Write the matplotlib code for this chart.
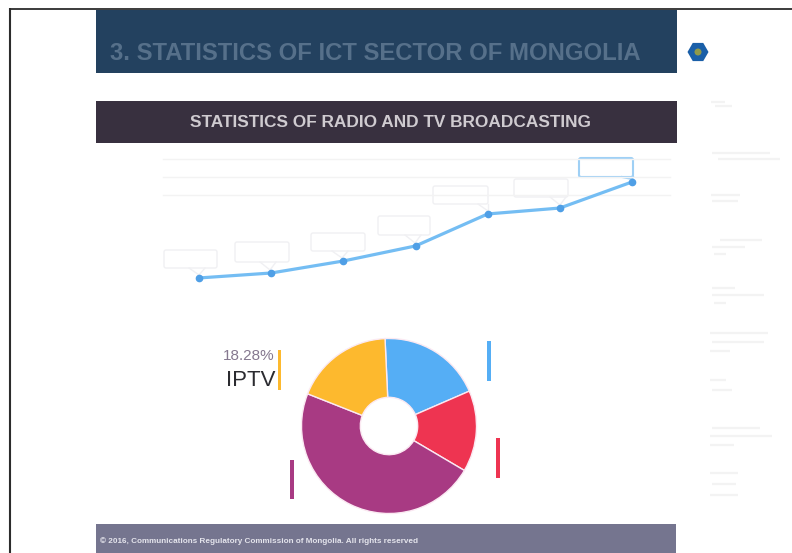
import matplotlib
matplotlib.use("Agg")
import math
import matplotlib.pyplot as plt
from matplotlib.patches import Rectangle, FancyBboxPatch, RegularPolygon, Circle

# ---- data ----
point_index = [0, 1, 2, 3, 4, 5, 6]
line_values = [16.9, 20.0, 27.5, 36.9, 56.9, 60.6, 76.9]   # y scale unreadable: relative units
grid_values = [91.0, 80.0, 68.5]

share_labels = ["", "", "", "IPTV"]
share_values = [19.2, 15.0, 47.5, 18.28]
share_colors = ["#55aef5", "#ee3451", "#a83a83", "#fdb92e"]

title_text = "3. STATISTICS OF ICT SECTOR OF MONGOLIA"
subtitle_text = "STATISTICS OF RADIO AND TV BROADCASTING"
footer_text = "\u00a9 2016, Communications Regulatory Commission of Mongolia. All rights reserved"
iptv_share = "18.28%"
iptv_name = "IPTV"

W, H = 792, 553
plt.rcParams["font.family"] = ["Liberation Sans", "DejaVu Sans"]
fig = plt.figure(figsize=(W / 100, H / 100), dpi=100, facecolor="white")

def px_axes(x0, y0, x1, y1, **kw):
    return fig.add_axes([x0 / W, 1 - y1 / H, (x1 - x0) / W, (y1 - y0) / H], **kw)

# page layer, in pixel coordinates
page = px_axes(0, 0, W, H)
page.set_xlim(0, W); page.set_ylim(H, 0); page.axis("off")

# scan edge
page.plot([9, W], [8.5, 8.5], color="#2c2c2c", lw=1.3, solid_capstyle="butt")
page.plot([9.5, 9.5], [8, H], color="#2c2c2c", lw=1.5, solid_capstyle="butt")

# banners
page.add_patch(Rectangle((96, 10), 581, 63, fc="#23415f", ec="none"))
page.add_patch(Rectangle((96, 101), 581, 42, fc="#38303f", ec="none"))
page.add_patch(Rectangle((96, 524), 580, 29, fc="#75758f", ec="none"))
page.text(375, 53, title_text, color="#56708a", fontsize=17.2, fontweight="bold",
          ha="center", va="center")
page.text(390, 122.5, subtitle_text, color="#cfcbd0", fontsize=12.4, fontweight="bold",
          ha="center", va="center")
page.text(100, 541, footer_text, color="#e4e4ec", fontsize=5.9, fontweight="bold",
          ha="left", va="center")

# logo
page.add_patch(RegularPolygon((698, 52), 6, radius=10.5, orientation=math.pi / 6,
                              fc="#1a5fa8", ec="none"))
page.add_patch(Circle((698, 52), 3.5, fc="#8f9a4a", ec="none"))

# faint unreadable sidebar text, rendered as very light strokes
side_rows = [(711, 725, 102), (715, 732, 106), (712, 770, 153), (718, 780, 159),
             (711, 740, 195), (712, 738, 201), (720, 762, 240), (712, 745, 247),
             (714, 726, 254), (712, 735, 288), (712, 764, 295), (714, 726, 303),
             (710, 768, 333), (712, 764, 342), (710, 730, 351), (710, 726, 380),
             (712, 732, 390), (712, 760, 428), (710, 772, 436), (710, 734, 445),
             (710, 738, 473), (712, 736, 484), (710, 738, 495)]
for x0, x1, y in side_rows:
    page.plot([x0, x1], [y, y], color="#f3f3f3", lw=1.6, solid_capstyle="butt")

# callout boxes over the line
boxes = [(164, 250, 53, 18), (235, 242, 54, 20), (311, 233, 54, 18), (378, 216, 52, 19),
         (433, 186, 55, 18), (514, 179, 54, 18), (579, 158, 54, 19)]
tails = [(199, 278), (270, 273), (342, 261), (415, 246), (488, 214), (560, 208), (632, 182)]
for i, ((bx, by, bw, bh), (tx, ty)) in enumerate(zip(boxes, tails)):
    last = i == len(boxes) - 1
    col = "#9fd0f5" if last else "#f0f0f3"
    lw = 1.5 if last else 1.0
    page.add_patch(FancyBboxPatch((bx, by), bw, bh, boxstyle="round,pad=0,rounding_size=2",
                                  fc="white", ec=col, lw=lw))
    page.plot([tx - 10, tx], [by + bh, ty - 3], color=col, lw=lw)
    page.plot([tx, min(tx + 6, bx + bw)], [ty - 3, by + bh], color=col, lw=lw)

# colour key bars
page.add_patch(Rectangle((277.5, 350), 3.5, 40, fc=share_colors[3], ec="none"))
page.add_patch(Rectangle((486.5, 341), 4, 40, fc=share_colors[0], ec="none"))
page.add_patch(Rectangle((496, 438), 4, 40, fc=share_colors[1], ec="none"))
page.add_patch(Rectangle((290, 460), 4, 39, fc=share_colors[2], ec="none"))
page.text(274, 356, iptv_share, color="#85788f", fontsize=11, ha="right", va="center")
page.text(275, 381, iptv_name, color="#2b2b30", fontsize=16, ha="right", va="center")

# line chart
ax = px_axes(130, 145, 680, 305)
ax.patch.set_alpha(0)
ax.set_xlim(-0.956, 6.665); ax.set_ylim(0, 100)
ax.axis("off")
for g in grid_values:
    ax.plot([-0.5, 6.52], [g, g], color="#f3f3f3", lw=1.0, zorder=1)
ax.plot(point_index, line_values, color="#74bdf3", lw=2.3, marker="o", ms=4.5,
        mfc="#4f9fe6", mec="#4f9fe6", zorder=3)

# donut
cx, cy, half = 389, 426, 96.25
dx = px_axes(cx - half, cy - half, cx + half, cy + half)
dx.patch.set_alpha(0)
dx.pie(share_values, colors=share_colors, startangle=92.6, counterclock=False, radius=1,
       wedgeprops=dict(width=0.672, edgecolor="#fbe9f2", linewidth=1.0))
dx.set_xlim(-1.1, 1.1); dx.set_ylim(-1.1, 1.1)

fig.savefig("out.png", dpi=100, facecolor="white")
